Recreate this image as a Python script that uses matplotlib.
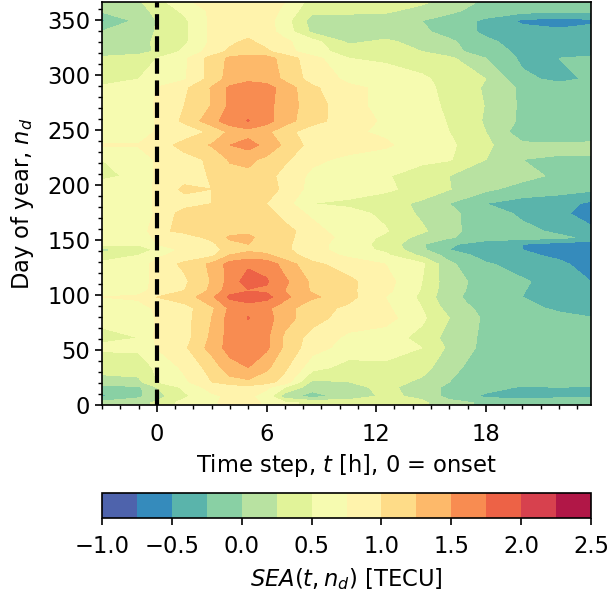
import numpy as np
import matplotlib
matplotlib.use("Agg")
import matplotlib.pyplot as plt
from matplotlib.ticker import MultipleLocator

plt.rcParams['font.family'] = 'DejaVu Sans'
plt.rcParams['font.size'] = 16.3
plt.rcParams['mathtext.default'] = 'it'

# columns: time step [h], rows: day of year (top of the chart first)
times = [-3, -1, 0, 1.5, 3, 4, 5, 6, 7, 8.5, 10.5, 12.5, 14.5, 16, 18, 20, 22, 23.75]
days = [366, 358, 349, 339, 330, 321, 315, 296, 288, 272, 258, 248, 236, 223, 208, 196, 183,
        174, 158, 152, 146, 141, 136, 128, 112, 104, 98, 92, 88, 79, 61, 52, 34, 21, 16, 8, 2, 0]
sea = [
    [.10, .22, .40, .70, .85, .90, .95, .85, .75, .40, .40, .40, .30, .15, -.05, -.10, -.15, -.15],
    [.05, .15, .32, .55, .80, .85, .90, .85, .70, .30, .30, .30, .15, .05, -.10, -.15, -.20, -.20],
    [-.30, .08, .26, .45, .80, .85, .90, .85, .60, .15, .15, .10, .00, -.10, -.30, -.55, -.60, -.55],
    [.02, .08, .28, .45, .80, .85, .90, .85, .65, .20, .10, .10, .05, -.10, -.30, -.40, -.45, -.40],
    [.10, .15, .30, .45, .80, .95, 1.05, .90, .80, .60, .20, .30, .15, .05, -.20, -.35, -.40, -.40],
    [.12, .18, .28, .55, .85, 1.05, 1.10, 1.05, .85, .60, .40, .38, .25, .10, -.15, -.30, -.35, -.35],
    [.30, .35, .50, .70, 1.10, 1.30, 1.38, 1.35, 1.15, .85, .50, .45, .35, .30, .00, -.30, -.25, -.20],
    [.40, .50, .65, .72, 1.10, 1.35, 1.45, 1.40, 1.20, .90, .70, .65, .55, .40, .25, -.20, -.30, -.22],
    [.55, .60, .76, .95, 1.27, 1.55, 1.62, 1.60, 1.40, 1.05, .80, .70, .58, .42, .22, -.05, -.15, -.18],
    [.55, .55, .80, 1.00, 1.26, 1.55, 1.65, 1.60, 1.35, 1.15, .80, .70, .60, .45, .24, -.05, -.15, -.15],
    [.55, .55, .78, 1.05, 1.40, 1.65, 1.76, 1.60, 1.35, 1.10, .85, .72, .62, .48, .22, -.05, -.15, -.12],
    [.50, .50, .80, .85, 1.05, 1.30, 1.40, 1.30, 1.10, .85, .78, .72, .60, .50, .25, -.15, -.22, -.15],
    [.78, .78, .85, 1.10, 1.27, 1.50, 1.60, 1.42, 1.20, .90, .85, .78, .65, .55, .30, .05, .05, .05],
    [.50, .55, .80, .90, 1.05, 1.28, 1.30, 1.20, 1.05, .80, .70, .65, .55, .52, .25, .00, -.02, -.02],
    [.48, .52, .80, .90, 1.02, 1.15, 1.20, 1.10, .90, .70, .62, .52, .40, .25, .15, .08, -.05, -.10],
    [.55, .60, .80, 1.05, 1.00, 1.15, 1.15, 1.10, .95, .65, .62, .55, .40, .26, .05, -.10, -.15, -.20],
    [.55, .60, .80, .90, 1.00, 1.10, 1.10, 1.00, .85, .50, .45, .35, .20, .00, -.25, -.35, -.40, -.55],
    [.55, .55, .80, 1.10, 1.05, 1.15, 1.20, 1.10, .90, .70, .58, .45, .20, .05, -.12, -.30, -.45, -.60],
    [.55, .55, .95, 1.05, 1.10, 1.15, 1.20, 1.20, 1.10, .85, .60, .52, .30, .05, -.10, -.18, -.30, -.45],
    [.55, .60, .80, .90, 1.05, 1.30, 1.30, 1.15, 1.05, .90, .65, .45, .15, .02, -.10, -.15, -.20, -.30],
    [.55, .55, .75, .85, .95, 1.15, 1.25, 1.15, 1.05, .85, .62, .42, .02, -.20, -.42, -.50, -.60, -.65],
    [.20, .22, .60, .80, .90, 1.10, 1.20, 1.15, 1.05, .85, .62, .45, .05, -.25, -.42, -.50, -.60, -.65],
    [.40, .50, .70, .85, .95, 1.26, 1.35, 1.30, 1.10, .90, .70, .55, .20, -.10, -.35, -.45, -.55, -.62],
    [.55, .60, .85, 1.05, 1.30, 1.60, 1.70, 1.65, 1.40, 1.05, .90, .75, .55, .05, -.22, -.35, -.45, -.60],
    [.55, .60, .85, .95, 1.27, 1.60, 1.88, 1.78, 1.55, 1.20, 1.05, .85, .50, .10, -.10, -.22, -.35, -.50],
    [.60, .65, .85, 1.00, 1.30, 1.65, 1.73, 1.70, 1.50, 1.22, 1.05, .82, .48, .08, -.10, -.24, -.35, -.48],
    [.75, .80, 1.00, 1.10, 1.45, 1.80, 1.95, 1.85, 1.55, 1.30, 1.08, .75, .45, .05, -.10, -.25, -.35, -.45],
    [.65, .70, .90, 1.00, 1.30, 1.65, 1.72, 1.65, 1.45, 1.15, 1.00, .78, .48, .10, -.10, -.22, -.30, -.40],
    [.58, .62, .80, .90, 1.20, 1.55, 1.70, 1.55, 1.35, 1.10, .95, .80, .50, .15, -.08, -.20, -.28, -.35],
    [.55, .55, .78, .90, 1.25, 1.60, 1.76, 1.60, 1.35, 1.10, .88, .85, .55, .25, -.05, -.15, -.20, -.24],
    [.45, .50, .80, .90, 1.30, 1.60, 1.65, 1.55, 1.20, .90, .70, .62, .42, .15, -.05, -.15, -.15, -.15],
    [.55, .55, .76, .95, 1.35, 1.60, 1.70, 1.55, 1.20, .85, .65, .60, .50, .20, -.08, -.15, -.10, -.20],
    [.30, .35, .55, .80, 1.10, 1.40, 1.50, 1.30, 1.05, .60, .40, .45, .35, .08, -.15, -.15, -.12, -.18],
    [.20, .20, .50, .70, 1.00, 1.15, 1.20, 1.10, .90, .20, .25, .35, .20, .00, -.12, -.15, -.15, -.15],
    [-.10, -.05, .25, .55, .85, .85, .90, .80, .50, .10, .15, .33, .10, -.05, -.15, -.28, -.25, -.28],
    [-.30, -.05, .15, .45, .70, .80, .80, .65, .10, -.10, .10, .30, .20, -.10, -.30, -.35, -.30, -.30],
    [.10, .15, .30, .60, .70, .85, .85, .70, .55, .45, .40, .40, .30, .10, -.05, -.10, -.10, -.10],
    [.10, .15, .30, .60, .70, .80, .80, .70, .55, .45, .40, .40, .30, .10, -.05, -.10, -.10, -.10],
]
levels = np.arange(-1, 2.75, 0.25)
cbar_ticks = [-1.0, -0.5, 0.0, 0.5, 1.0, 1.5, 2.0, 2.5]

fig = plt.figure(figsize=(6.07, 5.92), dpi=100)
ax = fig.add_axes([102/607, 1-405/592, 489/607, 403/592])
cax = fig.add_axes([102/607, 1-518/592, 489/607, 25/592])

cf = ax.contourf(times, days[::-1], np.array(sea)[::-1], levels=levels, cmap='Spectral_r')
ax.axvline(0, color='k', ls='--', lw=3)

ax.set_xlim(-3, 23.75)
ax.set_ylim(0, 366)
ax.xaxis.set_major_locator(MultipleLocator(6))
ax.xaxis.set_minor_locator(MultipleLocator(1))
ax.yaxis.set_major_locator(MultipleLocator(50))
ax.yaxis.set_minor_locator(MultipleLocator(10))
ax.tick_params(which='major', length=5, width=1.2)
ax.tick_params(which='minor', length=3, width=1)
ax.tick_params(axis='x', which='major', pad=8)
ax.set_xlabel(r'Time step, $t$ [h], 0 = onset', labelpad=4)
ax.set_ylabel(r'Day of year, $n_d$', labelpad=8)
for s in ax.spines.values():
    s.set_linewidth(1.2)

cb = fig.colorbar(cf, cax=cax, orientation='horizontal', ticks=cbar_ticks)
cb.set_label(r'$SEA(t, n_d)$ [TECU]', labelpad=6)
cb.ax.tick_params(length=5, width=1.2, pad=7)
cb.outline.set_linewidth(1.2)

fig.savefig('out.png', dpi=100)
